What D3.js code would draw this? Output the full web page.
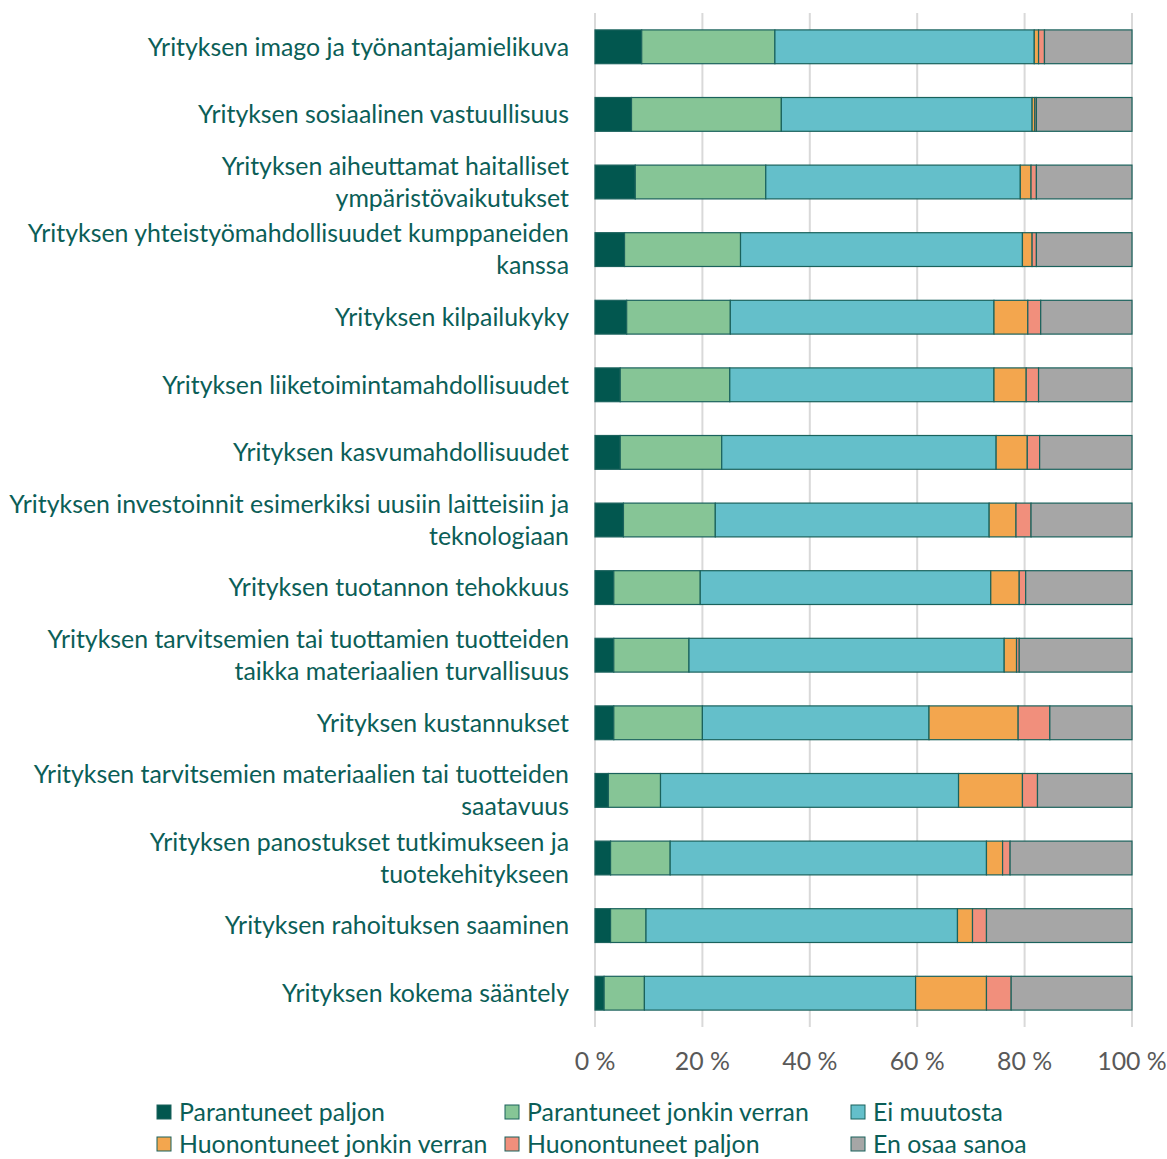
<!DOCTYPE html>
<html>
<head>
<meta charset="utf-8">
<script src="https://cdn.jsdelivr.net/npm/d3@7"></script>
<style>
  html, body { margin: 0; padding: 0; background: #fff; }
  svg { display: block; }
</style>
</head>
<body>
<svg id="chart" width="1167" height="1159"></svg>
<script>
// categories, top to bottom ("\n" = line break in the label)
const categories = [
  "Yrityksen imago ja työnantajamielikuva",
  "Yrityksen sosiaalinen vastuullisuus",
  "Yrityksen aiheuttamat haitalliset\nympäristövaikutukset",
  "Yrityksen yhteistyömahdollisuudet kumppaneiden\nkanssa",
  "Yrityksen kilpailukyky",
  "Yrityksen liiketoimintamahdollisuudet",
  "Yrityksen kasvumahdollisuudet",
  "Yrityksen investoinnit esimerkiksi uusiin laitteisiin ja\nteknologiaan",
  "Yrityksen tuotannon tehokkuus",
  "Yrityksen tarvitsemien tai tuottamien tuotteiden\ntaikka materiaalien turvallisuus",
  "Yrityksen kustannukset",
  "Yrityksen tarvitsemien materiaalien tai tuotteiden\nsaatavuus",
  "Yrityksen panostukset tutkimukseen ja\ntuotekehitykseen",
  "Yrityksen rahoituksen saaminen",
  "Yrityksen kokema sääntely"
];

const seriesNames = [
  "Parantuneet paljon",
  "Parantuneet jonkin verran",
  "Ei muutosta",
  "Huonontuneet jonkin verran",
  "Huonontuneet paljon",
  "En osaa sanoa"
];

// shares in %, one value per category
const parantuneetPaljon   = [8.7, 6.8, 7.5, 5.5, 5.9, 4.7, 4.7, 5.3, 3.5, 3.5, 3.5, 2.5, 2.9, 2.9, 1.7];
const parantuneetJonkin   = [24.8, 27.9, 24.3, 21.6, 19.3, 20.4, 18.9, 17.1, 16.1, 14.0, 16.5, 9.7, 11.1, 6.6, 7.5];
const eiMuutosta          = [48.3, 46.7, 47.4, 52.5, 49.1, 49.2, 51.1, 51.0, 54.1, 58.7, 42.2, 55.5, 58.9, 58.0, 50.5];
const huonontuneetJonkin  = [0.8, 0.5, 2.0, 1.8, 6.3, 6.0, 5.8, 5.0, 5.3, 2.3, 16.6, 11.9, 3.0, 2.8, 13.2];
const huonontuneetPaljon  = [1.1, 0.3, 1.0, 0.8, 2.4, 2.3, 2.3, 2.8, 1.2, 0.5, 5.9, 2.8, 1.4, 2.6, 4.6];
const enOsaaSanoa         = [16.3, 17.8, 17.8, 17.8, 17.0, 17.4, 17.2, 18.8, 19.8, 21.0, 15.3, 17.6, 22.7, 27.1, 22.5];

const xTicks = [0, 20, 40, 60, 80, 100];

const colors = ["#02574f", "#86c596", "#64bfca", "#f3a64e", "#f18f7c", "#a6a6a6"];
const textColor = "#0b5e57";
const FONT = "Lato, 'Open Sans', sans-serif";

const allSeries = [parantuneetPaljon, parantuneetJonkin, eiMuutosta, huonontuneetJonkin, huonontuneetPaljon, enOsaaSanoa];
const rows = categories.map((c, i) => {
  const r = { cat: c };
  seriesNames.forEach((s, k) => (r[s] = allSeries[k][i]));
  return r;
});

const svg = d3.select("#chart");
const margin = { left: 595, right: 35, top: 13, bottom: 132 };
const W = 1167, H = 1159;

// pick a font size so the widest label line matches the picture (~560px)
const probe = svg.append("text").attr("font-family", FONT).attr("font-size", 22)
  .text("Yrityksen investoinnit esimerkiksi uusiin laitteisiin ja");
const probeW = probe.node().getComputedTextLength() || 560;
probe.remove();
const fs = Math.min(27, 22 * 560 / probeW);

const x = d3.scaleLinear().domain([0, 100]).range([margin.left, W - margin.right]);
const y = d3.scaleBand().domain(categories)
  .range([margin.top, H - margin.bottom]).paddingInner(0.5).paddingOuter(0.25);

// gridlines
svg.append("g").selectAll("line").data(xTicks).join("line")
  .attr("x1", d => x(d)).attr("x2", d => x(d))
  .attr("y1", margin.top).attr("y2", H - margin.bottom)
  .attr("stroke", "#d9d9d9").attr("stroke-width", 2);

// stacked bars
const stack = d3.stack().keys(seriesNames)(rows);
svg.append("g").selectAll("g").data(stack).join("g")
  .attr("fill", (d, i) => colors[i])
  .selectAll("rect").data(d => d).join("rect")
  .attr("x", d => x(d[0]))
  .attr("width", d => x(d[1]) - x(d[0]))
  .attr("y", d => y(d.data.cat))
  .attr("height", y.bandwidth())
  .attr("stroke", "#1a625c").attr("stroke-width", 1.2);

// category labels
const labels = svg.append("g").selectAll("text").data(categories).join("text")
  .attr("text-anchor", "end")
  .attr("font-family", FONT).attr("font-size", fs).attr("fill", textColor);
labels.each(function (d) {
  const lines = d.split("\n");
  const cy = y(d) + y.bandwidth() / 2;
  const lh = 32;
  const t = d3.select(this);
  lines.forEach((ln, j) => {
    t.append("tspan").attr("x", 569)
      .attr("y", cy + (j - (lines.length - 1) / 2) * lh)
      .attr("dy", "0.35em").text(ln);
  });
});

// x axis labels
svg.append("g").selectAll("text").data(xTicks).join("text")
  .attr("x", d => x(d)).attr("y", 1070)
  .attr("text-anchor", "middle")
  .attr("font-family", FONT).attr("font-size", fs).attr("fill", "#595959")
  .text(d => d + " %");

// legend (second row nudged up so descenders stay inside the picture)
const legX = [157, 505, 851];
const legY = [1112, 1144];
const leg = svg.append("g").selectAll("g").data(seriesNames).join("g")
  .attr("transform", (d, i) => `translate(${legX[i % 3]},${legY[Math.floor(i / 3)]})`);
leg.append("rect").attr("x", 0).attr("y", -7).attr("width", 14).attr("height", 14)
  .attr("fill", (d, i) => colors[i]).attr("stroke", "#1a625c").attr("stroke-width", 1);
leg.append("text").attr("x", 22).attr("dy", "0.35em")
  .attr("font-family", FONT).attr("font-size", fs).attr("fill", textColor)
  .text(d => d);
</script>
</body>
</html>
